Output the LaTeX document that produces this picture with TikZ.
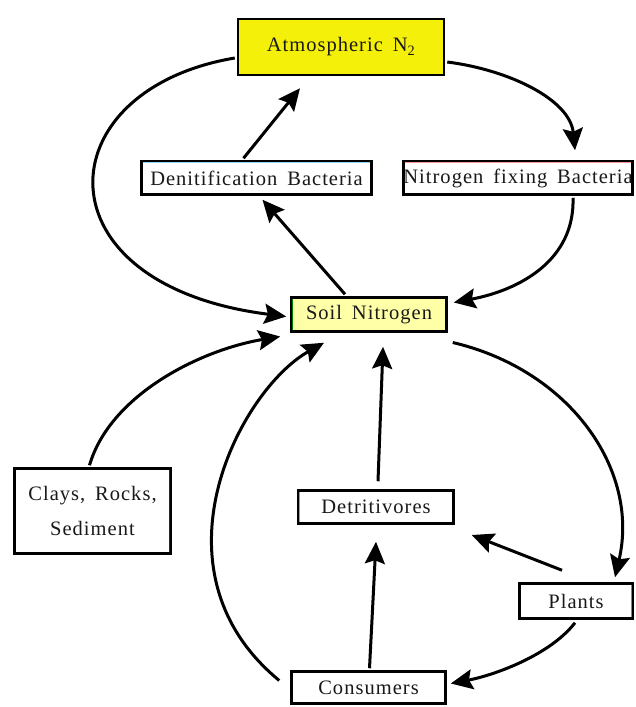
\documentclass[tikz,border=0pt]{standalone}
\usepackage{fontspec}
\setmainfont{Liberation Serif}[LetterSpace=5.0,WordSpace=1.6]
\usetikzlibrary{arrows.meta,calc}
\definecolor{atmyellow}{RGB}{245,240,10}
\definecolor{soilyellow}{RGB}{255,255,168}
\definecolor{txt}{RGB}{25,25,25}
\begin{document}
\begin{tikzpicture}[x=1pt,y=-1pt,
  box/.style={draw=black,line width=2.5pt,fill=white,inner sep=0pt,
    font=\fontsize{20.5}{24}\selectfont,text=txt},
  tint/.style={line width=1.2pt},
  arr/.style={line width=3pt,-{Stealth[length=22pt,width=20pt,inset=3.5pt]}}]
\useasboundingbox (0,0) rectangle (635,707);

\node[box,fill=atmyellow,minimum width=206pt,minimum height=56pt] (atm) at (341,47) {Atmospheric N\textsubscript{2}};
\node[box,minimum width=230pt,minimum height=33pt] (den) at (256.5,178) {Denitification Bacteria};
\node[box,minimum width=229pt,minimum height=33pt] (nfix) at (518,178) {Nitrogen fixing Bacteria};
\node[box,fill=soilyellow,minimum width=155pt,minimum height=34pt] (soil) at (369,314.5) {Soil Nitrogen};
\node[box,minimum width=156pt,minimum height=85pt,align=center,
  font=\fontsize{20.5}{35}\selectfont] (clays) at (92.5,511) {Clays, Rocks,\\Sediment};
\node[box,minimum width=155pt,minimum height=33pt] (detr) at (376,507) {Detritivores};
\node[box,minimum width=113pt,minimum height=35pt] (plants) at (576,601) {Plants};
\node[box,minimum width=154pt,minimum height=32pt] (cons) at (368.5,687.5) {Consumers};

% faint coloured inner edges
\draw[tint,cyan!45] ($(den.north west)+(2.5,2.6)$) -- ($(den.north east)+(-2.5,2.6)$);
\draw[tint,red!40] ($(nfix.north west)+(2.5,2.6)$) -- ($(nfix.north east)+(-2.5,2.6)$);
\draw[tint,green!50!black] ($(soil.north west)+(2.6,2.5)$) -- ($(soil.south west)+(2.6,-2.5)$);
\draw[tint,magenta!60] ($(detr.north west)+(2.6,2.5)$) -- ($(detr.south west)+(2.6,-2.5)$);
\draw[tint,red!55!black] ($(clays.north east)+(-2.6,2.5)$) -- ($(clays.south east)+(-2.6,-2.5)$);
\draw[tint,blue!55] ($(plants.north east)+(-2.6,2.5)$) -- ($(plants.south east)+(-2.6,-2.5)$);

\draw[arr] ($(atm.west)+(-2,11)$) .. controls (45,90) and (35,285) .. ($(soil.west)+(-4,2)$);
\draw[arr] ($(atm.east)+(2,15)$) .. controls (510,70) and (570,100) .. ($(nfix.north)+(57,-10)$);
\draw[arr] ($(nfix.south)+(55,2)$) .. controls (575,260) and (520,290) .. ($(soil.east)+(6,-12)$);
\draw[arr] ($(soil.north)+(-24,-2)$) -- ($(den.south)+(6,4)$);
\draw[arr] ($(den.north)+(-13,-2)$) -- ($(atm.south)+(-41,12)$);
\draw[arr] ($(soil.east)+(5,28)$) .. controls (570,370) and (640,470) .. ($(plants.north)+(39,-5)$);
\draw[arr] ($(plants.north)+(-14,-12)$) -- ($(detr.east)+(17,28)$);
\draw[arr] ($(detr.north)+(2,-8)$) -- ($(soil.south)+(14,14)$);
\draw[arr] ($(cons.north)+(1,-2)$) -- ($(detr.south)+(0,17)$);
\draw[arr] ($(plants.south)+(-1,3)$) .. controls (550,655) and (495,675) .. ($(cons.east)+(4,-4)$);
\draw[arr] ($(cons.west)+(-11,-7)$) .. controls (145,570) and (240,390) .. ($(soil.south)+(-45,10)$);
\draw[arr] ($(clays.north)+(-3,-2)$) .. controls (110,395) and (200,350) .. ($(soil.west)+(-10,22)$);
\end{tikzpicture}
\end{document}
